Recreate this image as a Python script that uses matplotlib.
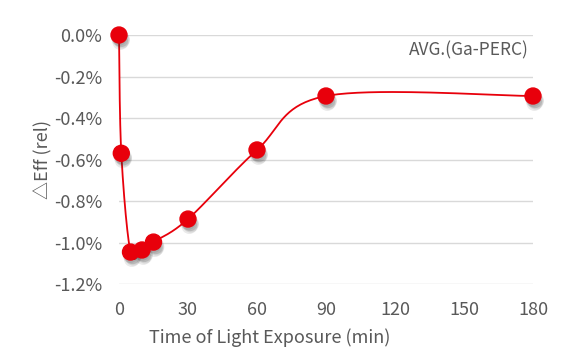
import matplotlib
matplotlib.use('Agg')
import matplotlib.pyplot as plt
import matplotlib.patheffects as pe
import numpy as np

plt.rcParams['font.family'] = ['Noto Sans CJK SC', 'DejaVu Sans']

# data
minutes = [0, 1, 5, 10, 15, 30, 60, 90, 180]
d_eff = [0.0, -0.57, -1.046, -1.036, -0.998, -0.887, -0.554, -0.294, -0.294]
x_ticks = [0, 30, 60, 90, 120, 150, 180]
y_ticks = [0.0, -0.2, -0.4, -0.6, -0.8, -1.0, -1.2]
series_name = 'AVG.(Ga-PERC)'

red = '#e8000b'
grey = '#595959'


def smooth(xs, ys, sx, sy, n=40):
    # catmull-rom style bezier (like office "smoothed line"), in screen-ish units
    p = np.column_stack([np.array(xs) * sx, np.array(ys) * sy])
    out = []
    for i in range(len(p) - 1):
        p0 = p[i - 1] if i > 0 else p[i]
        p1, p2 = p[i], p[i + 1]
        p3 = p[i + 2] if i + 2 < len(p) else p[i + 1]
        c1 = p1 + (p2 - p0) / 6
        c2 = p2 - (p3 - p1) / 6
        t = np.linspace(0, 1, n)[:, None]
        seg = (1 - t) ** 3 * p1 + 3 * (1 - t) ** 2 * t * c1 + 3 * (1 - t) * t ** 2 * c2 + t ** 3 * p2
        out.append(seg)
    out = np.vstack(out)
    return out[:, 0] / sx, out[:, 1] / sy


fig = plt.figure(figsize=(5.85, 3.59), dpi=100)
ax = fig.add_axes([119 / 585, 1 - 284 / 359, 414 / 585, 249 / 359])

sx_, sy_ = smooth(minutes, d_eff, 414 / 180, 207.5)
ax.plot(sx_, sy_, color=red, lw=1.3, clip_on=False, zorder=3)
# soft drop shadow under the markers
shadows = [pe.SimplePatchShadow(offset=o, alpha=0.10, shadow_rgbFace='#333333')
           for o in [(0, -2), (1, -3), (2, -4), (1, -5), (2, -3)]]
ax.plot(minutes, d_eff, 'o', ms=11.5, color=red, mec=red, clip_on=False, zorder=4,
        path_effects=shadows + [pe.Normal()])

ax.set_xlim(0, 180)
ax.set_ylim(-1.2, 0)
ax.set_xticks(x_ticks)
ax.set_yticks(y_ticks)
ax.set_yticklabels(['%.1f%%' % v for v in y_ticks])
ax.grid(axis='y', color='#d9d9d9', lw=1)
ax.set_axisbelow(True)
for s in ax.spines.values():
    s.set_visible(False)
ax.tick_params(length=0, colors=grey, labelsize=13)
ax.tick_params(axis='y', pad=12)
ax.tick_params(axis='x', pad=12)

ax.set_xlabel('Time of Light Exposure (min)', color=grey, fontsize=13)
ax.xaxis.set_label_coords((270 - 119) / 414, -(328 - 284) / 249)
ax.set_ylabel('△Eff (rel)', color=grey, fontsize=13)
ax.yaxis.set_label_coords(-(119 - 52) / 414, 0.5)
ax.text(0.99, 0.94, series_name, transform=ax.transAxes, ha='right', va='center',
        color=grey, fontsize=12.5)

fig.savefig('out.png', dpi=100)
